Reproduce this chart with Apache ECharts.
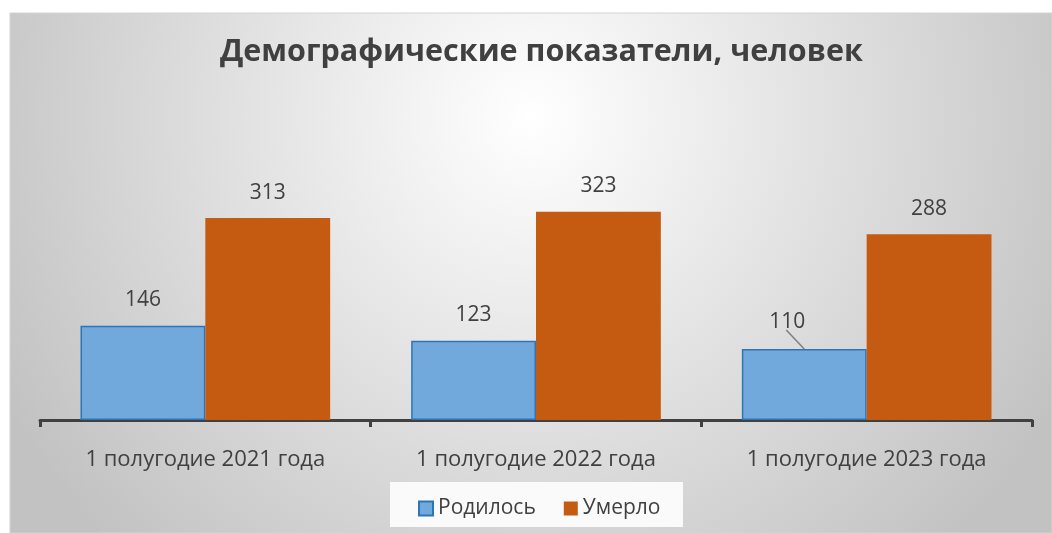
<!DOCTYPE html>
<html>
<head>
<meta charset="utf-8">
<script src="https://cdn.jsdelivr.net/npm/echarts@6/dist/echarts.min.js"></script>
<style>
    html, body { margin: 0; padding: 0; background: #ffffff; }
    #chart { width: 1052px; height: 533px; }
</style>
</head>
<body>
<div id="chart"></div>
<script>
// данные графика
var categories = ["1 полугодие 2021 года", "1 полугодие 2022 года", "1 полугодие 2023 года"];
var bornValues = [146, 123, 110];
var diedValues = [313, 323, 288];
var seriesNames = ["Родилось", "Умерло"];

var fontName = "'Open Sans', sans-serif";
var textColor = "#404040";
var catGap = 0.245;
var movedIndex = 2; // подпись смещена, есть выноска

var chartDom = document.getElementById('chart');
var myChart = echarts.init(chartDom);

var bgGraphic = [{
    type: 'rect',
    z: -10,
    shape: {x: 10, y: 13, width: 1042, height: 520},
    style: {
        fill: new echarts.graphic.RadialGradient(531, 117, 600, [
            {offset: 0, color: '#ffffff'},
            {offset: 1, color: '#c2c2c2'}
        ], true),
        stroke: '#d4d4d4',
        lineWidth: 1
    }
}, {
    type: 'rect',
    z: -5,
    shape: {x: 390, y: 482, width: 293, height: 45},
    style: {fill: '#fafafa'}
}];

var option = {
    backgroundColor: '#ffffff',
    graphic: bgGraphic,
    title: {
        text: 'Демографические показатели, человек',
        left: 215,
        top: 32,
        textStyle: {
            fontFamily: fontName,
            fontSize: 30.5,
            fontWeight: 'bold',
            color: textColor
        }
    },
    legend: {
        data: seriesNames,
        bottom: 9,
        left: 413,
        icon: 'rect',
        itemWidth: 14,
        itemHeight: 14,
        itemGap: 28,
        textStyle: {fontFamily: fontName, fontSize: 21, color: textColor}
    },
    grid: {
        left: 40,
        right: 20,
        top: 162,
        bottom: 113
    },
    xAxis: {
        type: 'category',
        data: categories,
        axisLine: {lineStyle: {color: '#404040', width: 3}},
        axisTick: {show: true, length: 7, lineStyle: {color: '#404040', width: 3}},
        axisLabel: {
            fontFamily: fontName,
            fontSize: 22,
            color: textColor,
            margin: 29
        }
    },
    yAxis: {
        type: 'value',
        min: 0,
        max: 400,
        show: false,
        splitLine: {show: false}
    },
    series: [{
        name: seriesNames[0],
        type: 'bar',
        data: bornValues,
        barGap: '0%',
        barCategoryGap: (catGap * 100) + '%',
        itemStyle: {color: '#72a9dc', borderColor: '#2e75b6', borderWidth: 1.5},
        label: {
            show: true,
            position: 'top',
            distance: 15,
            fontFamily: fontName,
            fontSize: 21,
            color: textColor
        },
        labelLayout: function (params) {
            if (params.dataIndex === movedIndex) {
                return {dx: -17, dy: -2};
            }
            return {};
        }
    }, {
        name: seriesNames[1],
        type: 'bar',
        data: diedValues,
        itemStyle: {color: '#c55a11'},
        label: {
            show: true,
            position: 'top',
            distance: 15,
            fontFamily: fontName,
            fontSize: 21,
            color: textColor
        }
    }]
};

option && myChart.setOption(option);

// выноска к смещённой подписи, считаем по осям графика
var p0 = myChart.convertToPixel({seriesIndex: 0}, [0, 0]);
var p1 = myChart.convertToPixel({seriesIndex: 0}, [1, 0]);
var band = p1[0] - p0[0];
var barTop = myChart.convertToPixel({seriesIndex: 0}, [movedIndex, bornValues[movedIndex]]);
var barX = barTop[0] - band * (1 - catGap) / 4;
myChart.setOption({
    graphic: bgGraphic.concat([{
        type: 'line',
        z: 10,
        shape: {x1: barX, y1: barTop[1], x2: barX - 18, y2: barTop[1] - 19},
        style: {stroke: '#7f7f7f', lineWidth: 1.5}
    }])
});
</script>
</body>
</html>
